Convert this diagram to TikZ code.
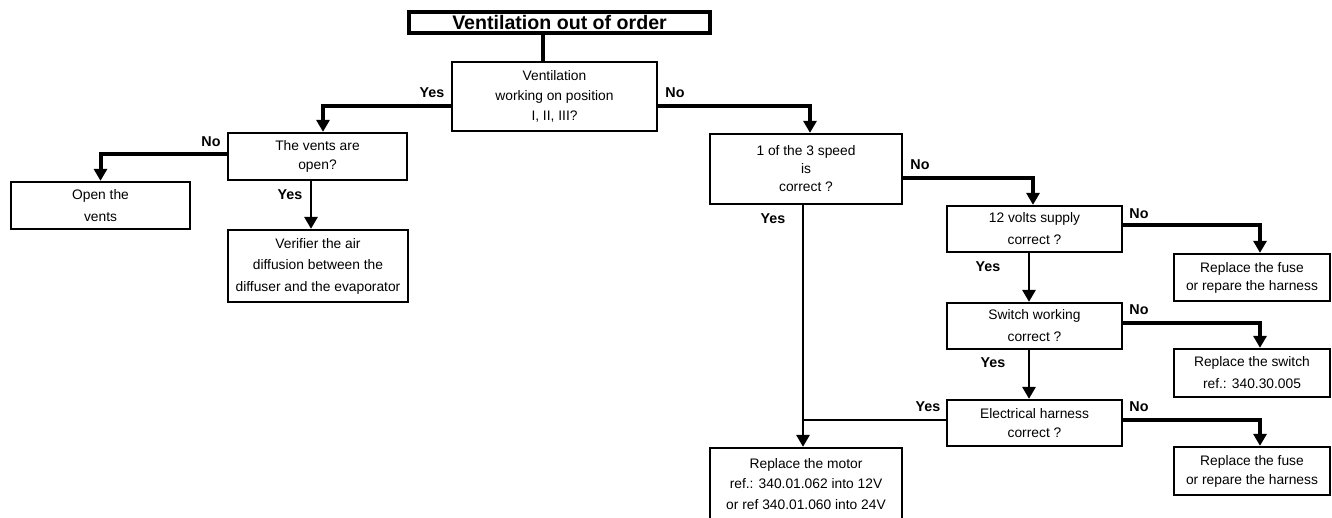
\documentclass[tikz,border=0pt]{standalone}
\usepackage{fontspec}
\setmainfont{Liberation Sans}
\usetikzlibrary{arrows.meta}
\begin{document}
\begin{tikzpicture}[x=1pt,y=-1pt,
  box/.style={draw, line width=2.3pt, inner sep=0pt, align=center},
  fs/.style={font=\fontsize{13.8}{#1}\selectfont},
  lbl/.style={font=\bfseries\fontsize{14.3}{16}\selectfont, inner sep=0pt},
  thk/.style={line width=4pt, -{Triangle[length=12pt,width=13pt]}},
  thn/.style={line width=2.9pt, -{Triangle[length=12pt,width=13pt]}},
  thnplain/.style={line width=2.9pt},
]
\useasboundingbox (0,0) rectangle (1332,517);

% boxes
\node[draw, line width=4.2pt, inner sep=0pt, minimum width=301pt, minimum height=21pt,
      font=\bfseries\fontsize{19.6}{22}\selectfont] (title) at (559.5,22.5) {Ventilation out of order};
\node[box, fs=20, minimum width=205pt, minimum height=69pt] (q1) at (554.5,96.5)
  {Ventilation\\working on position\\I, II, III?};
\node[box, fs=19, minimum width=179pt, minimum height=47pt] (q2) at (317.5,156.5)
  {The vents are\\open?};
\node[box, fs=22, minimum width=179pt, minimum height=47pt] (open) at (100.5,205.5)
  {Open the\\vents};
\node[box, fs=21.5, minimum width=180pt, minimum height=72pt] (verif) at (318,266)
  {Verifier the air\\diffusion between the\\diffuser and the evaporator};
\node[box, fs=18, minimum width=192pt, minimum height=70pt] (q3) at (806,169)
  {1 of the 3 speed\\is\\correct ?};
\node[box, fs=22, minimum width=175pt, minimum height=46pt] (q4) at (1034.5,229)
  {12 volts supply\\correct ?};
\node[box, fs=22, minimum width=175pt, minimum height=46pt] (sw) at (1034.5,326)
  {Switch working\\correct ?};
\node[box, fs=19, minimum width=175pt, minimum height=46pt] (eh) at (1034.5,423)
  {Electrical harness\\correct ?};
\node[box, fs=18, minimum width=156pt, minimum height=47pt] (r1) at (1252,277.5)
  {Replace the fuse\\or repare the harness};
\node[box, fs=22, minimum width=156pt, minimum height=48pt] (r2) at (1252,373)
  {Replace the switch\\ref.: 340.30.005};
\node[box, fs=19, minimum width=156pt, minimum height=48pt] (r3) at (1252,471)
  {Replace the fuse\\or repare the harness};
\node[box, fs=20.5, minimum width=192pt, minimum height=72pt] (motor) at (806,484)
  {Replace the motor\\ref.: 340.01.062 into 12V\\or ref 340.01.060 into 24V};

\coordinate (ehj) at (803,420);

% connectors
\draw[line width=4.2pt] ([xshift=-16.5pt]title.south) -- ([xshift=-11.5pt]q1.north);
\draw[thk] ([yshift=-9.5pt]q1.west) -| ([xshift=5.5pt]q2.north);
\draw[thk] ([yshift=-9.5pt]q1.east) -| ([xshift=4pt]q3.north);
\draw[thk] ([yshift=2.5pt]q2.west) -| (open.north);
\draw[thn] ([xshift=-6.5pt]q2.south) -- ([xshift=-7pt]verif.north);
\draw[thk] ([yshift=-9pt]q3.east) -| ([xshift=-1.5pt]q4.north);
\draw[thn] ([xshift=-3pt]q3.south) -- ([xshift=-3pt]motor.north);
\draw[thk] ([yshift=4pt]q4.east) -| ([xshift=8pt]r1.north);
\draw[thn] ([xshift=-5.5pt]q4.south) -- ([xshift=-5.5pt]sw.north);
\draw[thk] ([yshift=3pt]sw.east) -| ([xshift=8pt]r2.north);
\draw[thn] ([xshift=-5.5pt]sw.south) -- ([xshift=-5.5pt]eh.north);
\draw[thk] ([yshift=3pt]eh.east) -| ([xshift=8pt]r3.north);
\draw[thnplain] ([yshift=3pt]eh.west) -- (ehj);

% labels
\node[lbl] (l1) at (432,93) {Yes};
\node[lbl] (l2) at (675,93) {No};
\node[lbl] (l3) at (211,142) {No};
\node[lbl] (l4) at (290,195) {Yes};
\node[lbl] (l5) at (920,165) {No};
\node[lbl] (l6) at (773,219) {Yes};
\node[lbl] (l7) at (1139,214) {No};
\node[lbl] (l8) at (988,267) {Yes};
\node[lbl] (l9) at (1139,310) {No};
\node[lbl] (l10) at (993,363) {Yes};
\node[lbl] (l11) at (928,407) {Yes};
\node[lbl] (l12) at (1139,407) {No};
\end{tikzpicture}
\end{document}
